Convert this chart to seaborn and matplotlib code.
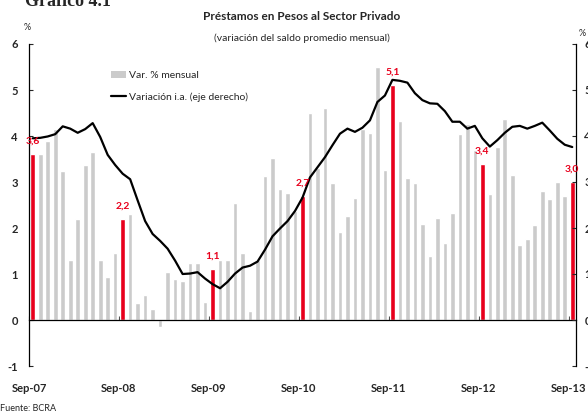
import numpy as np
import pandas as pd
import matplotlib
matplotlib.use("Agg")
import matplotlib.pyplot as plt
from matplotlib.patches import Patch
from matplotlib.lines import Line2D
import seaborn as sns

# Datos: préstamos en pesos al sector privado, sep-07 a sep-13
meses = pd.date_range("2007-09-01", "2013-09-01", freq="MS")
var_mensual = [
    3.6, 3.61, 3.90, 4.15, 3.24, 1.30, 2.19, 3.36, 3.66, 1.30, 0.94, 1.45,
    2.2, 2.31, 0.38, 0.55, 0.25, -0.15, 1.05, 0.90, 0.85, 1.25, 1.25, 0.40,
    1.1, 1.31, 1.31, 2.54, 1.45, 0.20, 1.31, 3.14, 3.53, 2.85, 2.76, 2.37,
    2.7, 4.51, 3.30, 4.60, 2.98, 1.91, 2.26, 2.65, 4.15, 4.07, 5.49, 3.26,
    5.1, 4.32, 3.09, 2.98, 2.09, 1.40, 2.21, 1.67, 2.33, 4.05, 4.25, 3.70,
    3.4, 2.74, 3.75, 4.36, 3.15, 1.62, 1.77, 2.06, 2.80, 2.63, 2.99, 2.70,
    3.0,
]
var_ia = [
    3.95, 3.96, 3.99, 4.04, 4.21, 4.16, 4.07, 4.15, 4.28, 3.98, 3.59, 3.37,
    3.18, 3.06, 2.60, 2.15, 1.87, 1.72, 1.55, 1.29, 1.00, 1.01, 1.04, 0.90,
    0.78, 0.69, 0.83, 1.01, 1.14, 1.18, 1.27, 1.53, 1.82, 1.99, 2.15, 2.37,
    2.66, 3.10, 3.32, 3.54, 3.80, 4.05, 4.16, 4.09, 4.18, 4.34, 4.74, 4.88,
    5.22, 5.20, 5.16, 4.93, 4.78, 4.71, 4.70, 4.54, 4.31, 4.31, 4.16, 4.22,
    3.95, 3.77, 3.91, 4.07, 4.20, 4.22, 4.16, 4.22, 4.29, 4.12, 3.94, 3.81,
    3.76,
]
etiquetas_x = ["Sep-07", "Sep-08", "Sep-09", "Sep-10", "Sep-11", "Sep-12", "Sep-13"]

df = pd.DataFrame({"mes": meses, "var": var_mensual, "ia": var_ia})
df["idx"] = np.arange(len(df))
df["tipo"] = np.where(df["mes"].dt.month == 9, "sep", "resto")

GRIS = "#cbcbcb"
ROJO = "#e8001c"

sns.set_style("white")
plt.rcParams["font.family"] = ["Lato", "DejaVu Sans"]

fig = plt.figure(figsize=(5.88, 4.15), dpi=100)
ax = fig.add_axes([29 / 588, 1 - 366 / 415, (576 - 29) / 588, (366 - 44) / 415])

sns.barplot(data=df, x="idx", y="var", hue="tipo", palette={"resto": GRIS, "sep": ROJO},
            dodge=False, width=0.62, saturation=1, legend=False, ax=ax)

ax2 = ax.twinx()
sns.lineplot(data=df, x="idx", y="ia", color="black", lw=1.6, ax=ax2)

for a in (ax, ax2):
    a.set_ylim(-1, 6)
    a.set_yticks(range(-1, 7))
    a.set_xlim(-0.5, len(df) - 0.5)
    a.set_xlabel("")
    a.set_ylabel("")
    a.spines["top"].set_visible(False)
    a.spines["bottom"].set_position(("data", 0))
    for s in a.spines.values():
        s.set_color("black")
        s.set_linewidth(0.9)

ax.spines["right"].set_visible(False)
ax2.spines["left"].set_visible(False)
ax2.spines["bottom"].set_visible(False)

ax.set_yticklabels([str(v) for v in range(-1, 7)], fontweight="bold", fontsize=8)
ax2.set_yticklabels([str(v) for v in range(-1, 7)], fontweight="bold", fontsize=8)
ax.tick_params(axis="y", direction="in", length=3, width=0.8, pad=8, left=True)
ax2.tick_params(axis="y", direction="in", length=3, width=0.8, pad=6, right=True)

sep_pos = df.index[df["tipo"] == "sep"].to_numpy()
ax.set_xticks(sep_pos - 0.5)
ax.set_xticklabels([])
ax.tick_params(axis="x", direction="in", length=3, width=0.8, bottom=True)
ax2.tick_params(axis="x", bottom=False, labelbottom=False)
for p, lab in zip(sep_pos - 0.5, etiquetas_x):
    ax.text(p, -1.48, lab, ha="center", va="center", fontsize=8, fontweight="bold")

# etiquetas de las barras de septiembre
for p in sep_pos:
    v = df.loc[p, "var"]
    ax2.annotate(f"{v:.1f}".replace(".", ","), (p, v), xytext=(0, 6), textcoords="offset points",
                 ha="center", va="bottom", color=ROJO, fontsize=7.5, fontweight="bold", zorder=5)

handles = [Patch(facecolor=GRIS, edgecolor="none"), Line2D([], [], color="black", lw=1.6)]
ax2.legend(handles, ["Var. % mensual", "Variación i.a. (eje derecho)"], loc="upper left",
           bbox_to_anchor=(111 / 588, 1 - 71 / 415), bbox_transform=fig.transFigure,
           frameon=False, fontsize=7.5, handlelength=1.45, handletextpad=0.25,
           labelspacing=1.15, borderpad=0, borderaxespad=0)

fig.text(302 / 588, 1 - 17 / 415, "Préstamos en Pesos al Sector Privado", ha="center", va="center",
         fontsize=8.5, fontweight="bold")
fig.text(302 / 588, 1 - 38 / 415, "(variación del saldo promedio mensual)", ha="center", va="center",
         fontsize=7.5)
fig.text(25 / 588, 1 - 6 / 415, "Gráfico 4.1", ha="left", va="baseline", fontsize=13,
         fontweight="bold", family="Liberation Serif")
fig.text(27 / 588, 1 - 28 / 415, "%", ha="center", va="center", fontsize=6.5)
fig.text(582 / 588, 1 - 33 / 415, "%", ha="center", va="center", fontsize=6.5)
fig.text(0 / 588, 1 - 408 / 415, "Fuente: BCRA", ha="left", va="center", fontsize=6.5)

fig.savefig("out.png", dpi=100)
